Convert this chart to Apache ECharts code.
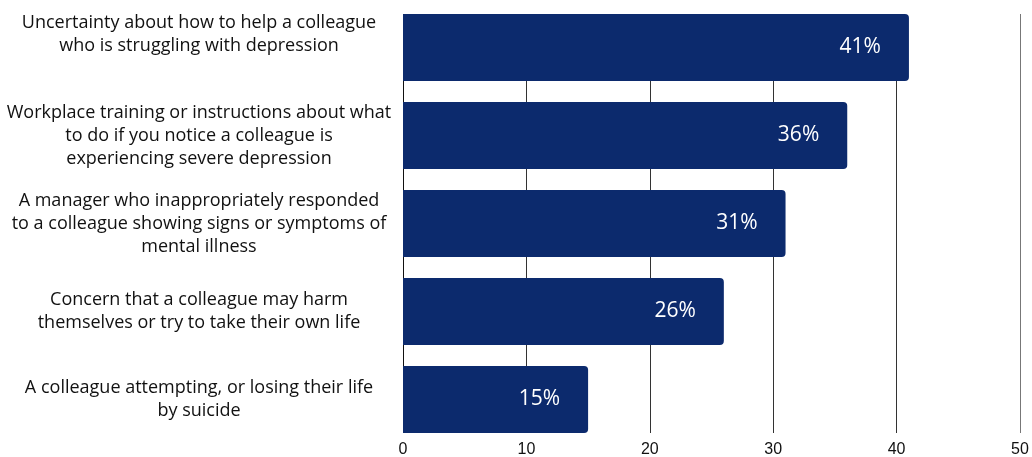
<!DOCTYPE html>
<html>
<head>
<meta charset="utf-8">
<script src="https://cdn.jsdelivr.net/npm/echarts@6/dist/echarts.min.js"></script>
<style>
html, body { margin: 0; padding: 0; background: #fff; }
#chart { width: 1032px; height: 457px; }
</style>
</head>
<body>
<div id="chart"></div>
<script>
// 数据
const categories = [
    'Uncertainty about how to help a colleague\nwho is struggling with depression',
    'Workplace training or instructions about what\nto do if you notice a colleague is\nexperiencing severe depression',
    'A manager who inappropriately responded\nto a colleague showing signs or symptoms of\nmental illness',
    'Concern that a colleague may harm\nthemselves or try to take their own life',
    'A colleague attempting, or losing their life\nby suicide'
];
const values = [41, 36, 31, 26, 15];
const xTicks = [0, 10, 20, 30, 40, 50];

const font = '"Open Sans", sans-serif';
const chart = echarts.init(document.getElementById('chart'));

const option = {
    animation: false,
    grid: [
        // axis + gridlines, spans the bars only
        { left: 403, right: 12, top: 14, bottom: 24, outerBoundsMode: 'none', containLabel: false },
        // bars
        { left: 403, right: 12, top: 3.5, bottom: 13.5, outerBoundsMode: 'none', containLabel: false }
    ],
    xAxis: [
        {
            gridIndex: 0,
            type: 'value',
            min: xTicks[0],
            max: xTicks[xTicks.length - 1],
            interval: 10,
            axisLine: { show: false },
            axisTick: { show: false },
            axisLabel: {
                color: '#111',
                fontSize: 16,
                fontFamily: '"Liberation Sans", Arial, sans-serif',
                margin: 9
            },
            splitLine: {
                show: true,
                lineStyle: { color: ['#111', '#333', '#333', '#333', '#333', '#777'], width: 1 }
            }
        },
        {
            gridIndex: 1,
            type: 'value',
            min: xTicks[0],
            max: xTicks[xTicks.length - 1],
            show: false
        }
    ],
    yAxis: [
        {
            gridIndex: 0,
            type: 'category',
            data: categories,
            show: false
        },
        {
            gridIndex: 1,
            type: 'category',
            inverse: true,
            data: categories.map((c, i) => i === 0
                ? { value: c, textStyle: { align: 'center', verticalAlign: 'bottom', padding: [0, 0, -10, 0] } }
                : c),
            axisLine: { show: false },
            axisTick: { show: false },
            axisLabel: {
                color: '#111',
                fontSize: 18,
                lineHeight: 23,
                fontFamily: font,
                align: 'center',
                margin: 204
            }
        }
    ],
    series: [
        {
            type: 'bar',
            xAxisIndex: 1,
            yAxisIndex: 1,
            data: values,
            barCategoryGap: '23.9%',
            itemStyle: {
                color: '#0c2a6d',
                borderRadius: [0, 4, 4, 0]
            },
            label: {
                show: true,
                position: 'insideRight',
                distance: 28,
                color: '#fff',
                fontSize: 21,
                fontFamily: font,
                formatter: '{c}%'
            }
        }
    ]
};
chart.setOption(option);
window.addEventListener('resize', () => chart.resize());
</script>
</body>
</html>
